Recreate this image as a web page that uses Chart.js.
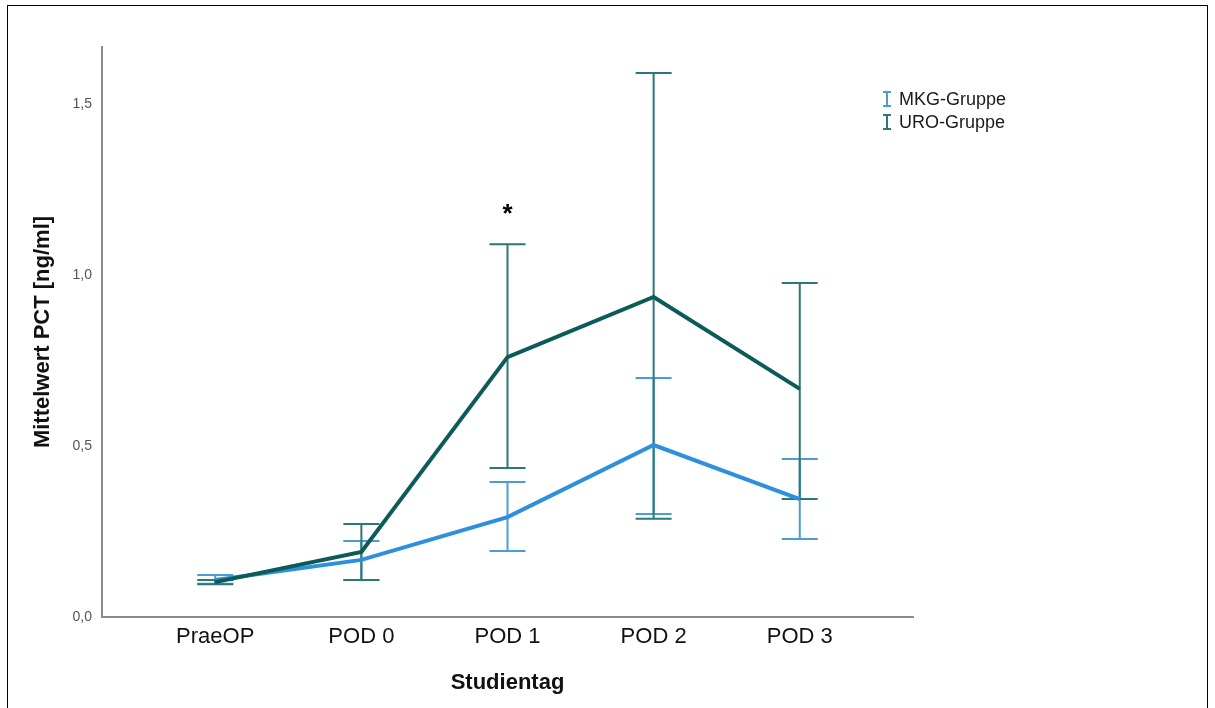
<!DOCTYPE html>
<html>
<head>
<meta charset="utf-8">
<script src="https://cdn.jsdelivr.net/npm/chart.js@4"></script>
<style>
  body { margin: 0; background: #fff; }
  #frame { position: absolute; left: 7px; top: 5px; width: 1199px; height: 720px; border: 1px solid #000; }
  #wrap { position: absolute; left: 0; top: 0; width: 1215px; height: 708px; }
</style>
</head>
<body>
<div id="frame"></div>
<div id="wrap"><canvas id="chart1" width="1215" height="708"></canvas></div>
<script>
const categories = ['PraeOP', 'POD 0', 'POD 1', 'POD 2', 'POD 3'];
const yTicks = [0, 0.5, 1.0, 1.5];

const mkgMean = [0.108, 0.167, 0.292, 0.503, 0.345];
const mkgLow  = [0.097, 0.108, 0.193, 0.301, 0.228];
const mkgHigh = [0.123, 0.222, 0.395, 0.699, 0.462];

const uroMean = [0.102, 0.190, 0.760, 0.936, 0.667];
const uroLow  = [0.096, 0.108, 0.436, 0.287, 0.345];
const uroHigh = [0.108, 0.272, 1.090, 1.591, 0.977];

// significance marker above POD 1
const starPos = { x: 2, y: 1.19 };

const FONT = '"Liberation Sans", Arial, sans-serif';
const MKG_LINE = '#2f8fdc';
const MKG_ERR = '#4a9ed4';
const URO_LINE = '#0d5b57';
const URO_ERR = '#2b7876';

function toPoints(values) {
    return values.map((v, i) => ({ x: i, y: v }));
}

const errorBarPlugin = {
    id: 'errorBars',
    beforeDatasetsDraw(chart) {
        const ctx = chart.ctx;
        const xs = chart.scales.x;
        const ys = chart.scales.y;
        const groups = [
            { low: mkgLow, high: mkgHigh, color: MKG_ERR },
            { low: uroLow, high: uroHigh, color: URO_ERR }
        ];
        ctx.save();
        ctx.lineWidth = 2;
        groups.forEach(g => {
            ctx.strokeStyle = g.color;
            g.low.forEach((lo, i) => {
                const px = xs.getPixelForValue(i);
                const pLo = ys.getPixelForValue(lo);
                const pHi = ys.getPixelForValue(g.high[i]);
                ctx.beginPath();
                ctx.moveTo(px, pLo);
                ctx.lineTo(px, pHi);
                ctx.moveTo(px - 18, pLo);
                ctx.lineTo(px + 18, pLo);
                ctx.moveTo(px - 18, pHi);
                ctx.lineTo(px + 18, pHi);
                ctx.stroke();
            });
        });
        ctx.restore();
    },
    afterDraw(chart) {
        const ctx = chart.ctx;
        const xs = chart.scales.x;
        const ys = chart.scales.y;
        ctx.save();
        // star
        ctx.fillStyle = '#000';
        ctx.font = 'bold 26px ' + FONT;
        ctx.textAlign = 'center';
        ctx.textBaseline = 'middle';
        ctx.fillText('*', xs.getPixelForValue(starPos.x), ys.getPixelForValue(starPos.y) + 5);

        // legend
        const items = [
            { label: 'MKG-Gruppe', color: MKG_ERR, y: 99 },
            { label: 'URO-Gruppe', color: URO_ERR, y: 122 }
        ];
        ctx.textAlign = 'left';
        ctx.font = '18px ' + FONT;
        items.forEach(it => {
            ctx.strokeStyle = it.color;
            ctx.lineWidth = 2;
            ctx.beginPath();
            ctx.moveTo(887, it.y - 7);
            ctx.lineTo(887, it.y + 7);
            ctx.moveTo(883, it.y - 7);
            ctx.lineTo(891, it.y - 7);
            ctx.moveTo(883, it.y + 7);
            ctx.lineTo(891, it.y + 7);
            ctx.stroke();
            ctx.fillStyle = '#1a1a1a';
            ctx.fillText(it.label, 899, it.y + 1);
        });
        ctx.restore();
    }
};

const ctx = document.getElementById('chart1').getContext('2d');
new Chart(ctx, {
    type: 'line',
    data: {
        datasets: [
            {
                label: 'URO-Gruppe',
                data: toPoints(uroMean),
                borderColor: URO_LINE,
                borderWidth: 4,
                pointRadius: 0,
                fill: false,
                tension: 0
            },
            {
                label: 'MKG-Gruppe',
                data: toPoints(mkgMean),
                borderColor: MKG_LINE,
                borderWidth: 4,
                pointRadius: 0,
                fill: false,
                tension: 0
            }
        ]
    },
    options: {
        responsive: false,
        animation: false,
        layout: { padding: { left: 0, top: 47, right: 302, bottom: 0 } },
        plugins: {
            legend: { display: false },
            tooltip: { enabled: false }
        },
        scales: {
            x: {
                type: 'linear',
                min: -0.775,
                max: 4.775,
                afterBuildTicks: scale => { scale.ticks = categories.map((c, i) => ({ value: i })); },
                afterFit: scale => { scale.height = 91; },
                grid: { display: false, drawTicks: false },
                border: { display: true, color: '#8c8c8c', width: 2 },
                ticks: {
                    padding: 7,
                    color: '#111',
                    font: { family: FONT, size: 22 },
                    callback: v => categories[v]
                },
                title: {
                    display: true,
                    text: 'Studientag',
                    color: '#111',
                    font: { family: FONT, size: 22, weight: 'bold' },
                    padding: { top: 0, bottom: 12 }
                }
            },
            y: {
                min: 0,
                max: 1.667,
                afterBuildTicks: scale => { scale.ticks = yTicks.map(v => ({ value: v })); },
                afterFit: scale => { scale.width = 102; },
                grid: { display: false, drawTicks: false },
                border: { display: true, color: '#8c8c8c', width: 2 },
                ticks: {
                    padding: 10,
                    color: '#555',
                    font: { family: FONT, size: 14 },
                    callback: v => v.toFixed(1).replace('.', ',')
                },
                title: {
                    display: true,
                    text: 'Mittelwert PCT [ng/ml]',
                    color: '#111',
                    font: { family: FONT, size: 22, weight: 'bold' },
                    padding: { top: 30, bottom: 0 }
                }
            }
        }
    },
    plugins: [errorBarPlugin]
});
</script>
</body>
</html>
